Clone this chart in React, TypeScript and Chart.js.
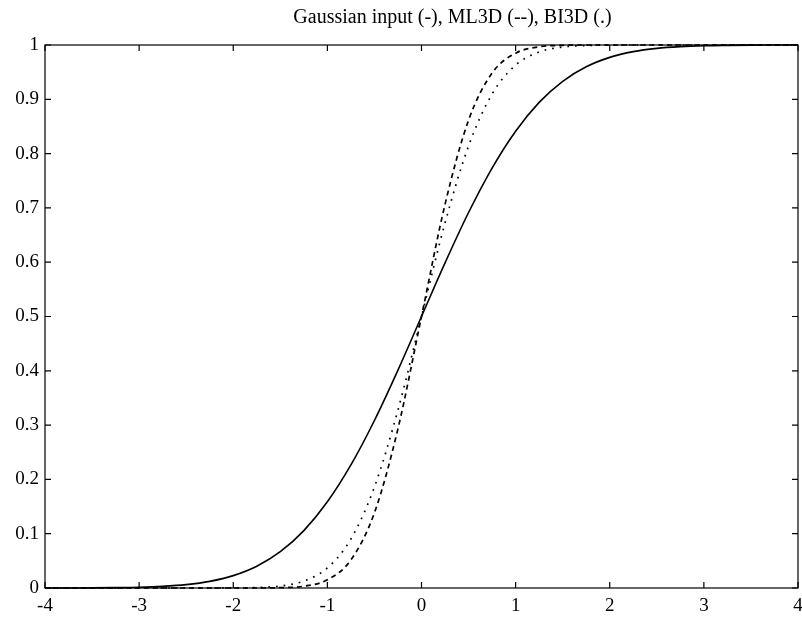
import React, { useEffect, useRef } from "react";
import { Chart, registerables } from "chart.js";

Chart.register(...registerables);

const titleText = "Gaussian input (-), ML3D (--), BI3D (.)";

const xValues = [
  -4, -3.75, -3.5, -3.25, -3, -2.75, -2.5, -2.25, -2, -1.75, -1.5, -1.25, -1, -0.75, -0.5, -0.25,
  0, 0.25, 0.5, 0.75, 1, 1.25, 1.5, 1.75, 2, 2.25, 2.5, 2.75, 3, 3.25, 3.5, 3.75, 4,
];

const gaussianInput = [
  0, 0.0001, 0.0002, 0.0006, 0.0013, 0.003, 0.0062, 0.0122, 0.0228, 0.0401, 0.0668, 0.1056, 0.1587,
  0.2266, 0.3085, 0.4013, 0.5, 0.5987, 0.6915, 0.7734, 0.8413, 0.8944, 0.9332, 0.9599, 0.9772, 0.9878,
  0.9938, 0.997, 0.9987, 0.9994, 0.9998, 0.9999, 1,
];

const ml3d = [
  0, 0, 0, 0, 0, 0, 0, 0, 0, 0, 0.0006, 0.0033, 0.015, 0.0516, 0.1385, 0.2935, 0.5, 0.7065, 0.8615,
  0.9484, 0.985, 0.9967, 0.9994, 1, 1, 1, 1, 1, 1, 1, 1, 1, 1,
];

const bi3d = [
  0, 0, 0, 0, 0, 0, 0, 0, 0.0002, 0.0009, 0.0037, 0.0128, 0.037, 0.0903, 0.186, 0.3277, 0.5, 0.6723,
  0.814, 0.9097, 0.963, 0.9872, 0.9963, 0.9991, 0.9998, 1, 1, 1, 1, 1, 1, 1, 1,
];

const xTickValues = [-4, -3, -2, -1, 0, 1, 2, 3, 4];
const yTickValues = [0, 0.1, 0.2, 0.3, 0.4, 0.5, 0.6, 0.7, 0.8, 0.9, 1];

const serif = "'Liberation Serif', 'DejaVu Serif', serif";
const tickFont = { family: serif, size: 19 };

const fmt = (v: number) => String(Math.round(v * 10) / 10);

const boxPlugin = {
  id: "matlabBox",
  afterDatasetsDraw(chart: any) {
    const { ctx, chartArea, scales } = chart;
    const { left, right, top, bottom } = chartArea;
    const len = 6;
    ctx.save();
    ctx.strokeStyle = "#000";
    ctx.lineWidth = 1.2;
    ctx.strokeRect(left, top, right - left, bottom - top);
    ctx.beginPath();
    for (const v of xTickValues) {
      const px = scales.x.getPixelForValue(v);
      ctx.moveTo(px, bottom);
      ctx.lineTo(px, bottom - len);
      ctx.moveTo(px, top);
      ctx.lineTo(px, top + len);
    }
    for (const v of yTickValues) {
      const py = scales.y.getPixelForValue(v);
      ctx.moveTo(left, py);
      ctx.lineTo(left + len, py);
      ctx.moveTo(right, py);
      ctx.lineTo(right - len, py);
    }
    ctx.stroke();
    // title, placed slightly right of the plot centre as in the reference
    ctx.fillStyle = "#000";
    ctx.font = `20px ${serif}`;
    ctx.textAlign = "center";
    ctx.textBaseline = "middle";
    ctx.fillText(titleText, (left + right) / 2 + 31, top - 27);
    ctx.restore();
  },
};

export default function App() {
  const canvasRef = useRef<HTMLCanvasElement | null>(null);

  useEffect(() => {
    const canvas = canvasRef.current;
    if (!canvas) return;
    const mk = (arr: number[]) => xValues.map((x, i) => ({ x, y: arr[i] }));
    const chart = new Chart(canvas, {
      type: "line",
      data: {
        datasets: [
          {
            label: "Gaussian input",
            data: mk(gaussianInput),
            borderColor: "#000",
            borderWidth: 1.6,
            pointRadius: 0,
            cubicInterpolationMode: "monotone",
            clip: false as any,
          },
          {
            label: "ML3D",
            data: mk(ml3d),
            borderColor: "#000",
            borderWidth: 1.7,
            borderDash: [5, 4],
            pointRadius: 0,
            cubicInterpolationMode: "monotone",
            clip: false as any,
          },
          {
            label: "BI3D",
            data: mk(bi3d),
            borderColor: "#000",
            borderWidth: 1.7,
            borderDash: [1.7, 6],
            pointRadius: 0,
            cubicInterpolationMode: "monotone",
            clip: false as any,
          },
        ],
      },
      options: {
        animation: false,
        responsive: false,
        layout: { padding: { left: 0, right: 4, top: 45, bottom: 0 } },
        plugins: {
          legend: { display: false },
          tooltip: { enabled: false },
          title: { display: false },
        },
        scales: {
          x: {
            type: "linear",
            min: -4,
            max: 4,
            afterBuildTicks: (scale: any) => {
              scale.ticks = xTickValues.map((v) => ({ value: v }));
            },
            afterFit: (scale: any) => {
              scale.height = 32;
              scale.paddingLeft = 0;
              scale.paddingRight = 0;
            },
            grid: { display: false, drawTicks: false },
            border: { display: false },
            ticks: { color: "#000", font: tickFont, padding: 7, maxRotation: 0, callback: (v: any) => fmt(Number(v)) },
          },
          y: {
            type: "linear",
            min: 0,
            max: 1,
            afterBuildTicks: (scale: any) => {
              scale.ticks = yTickValues.map((v) => ({ value: v }));
            },
            afterFit: (scale: any) => {
              scale.width = 45;
              scale.paddingTop = 0;
              scale.paddingBottom = 0;
            },
            grid: { display: false, drawTicks: false },
            border: { display: false },
            ticks: { color: "#000", font: tickFont, padding: 6, callback: (v: any) => fmt(Number(v)) },
          },
        },
      },
      plugins: [boxPlugin],
    });
    return () => chart.destroy();
  }, []);

  return (
    <div style={{ position: "absolute", left: 0, top: 0, width: 802, height: 620, background: "#fff" }}>
      <canvas ref={canvasRef} width={802} height={620} style={{ display: "block" }} />
    </div>
  );
}
